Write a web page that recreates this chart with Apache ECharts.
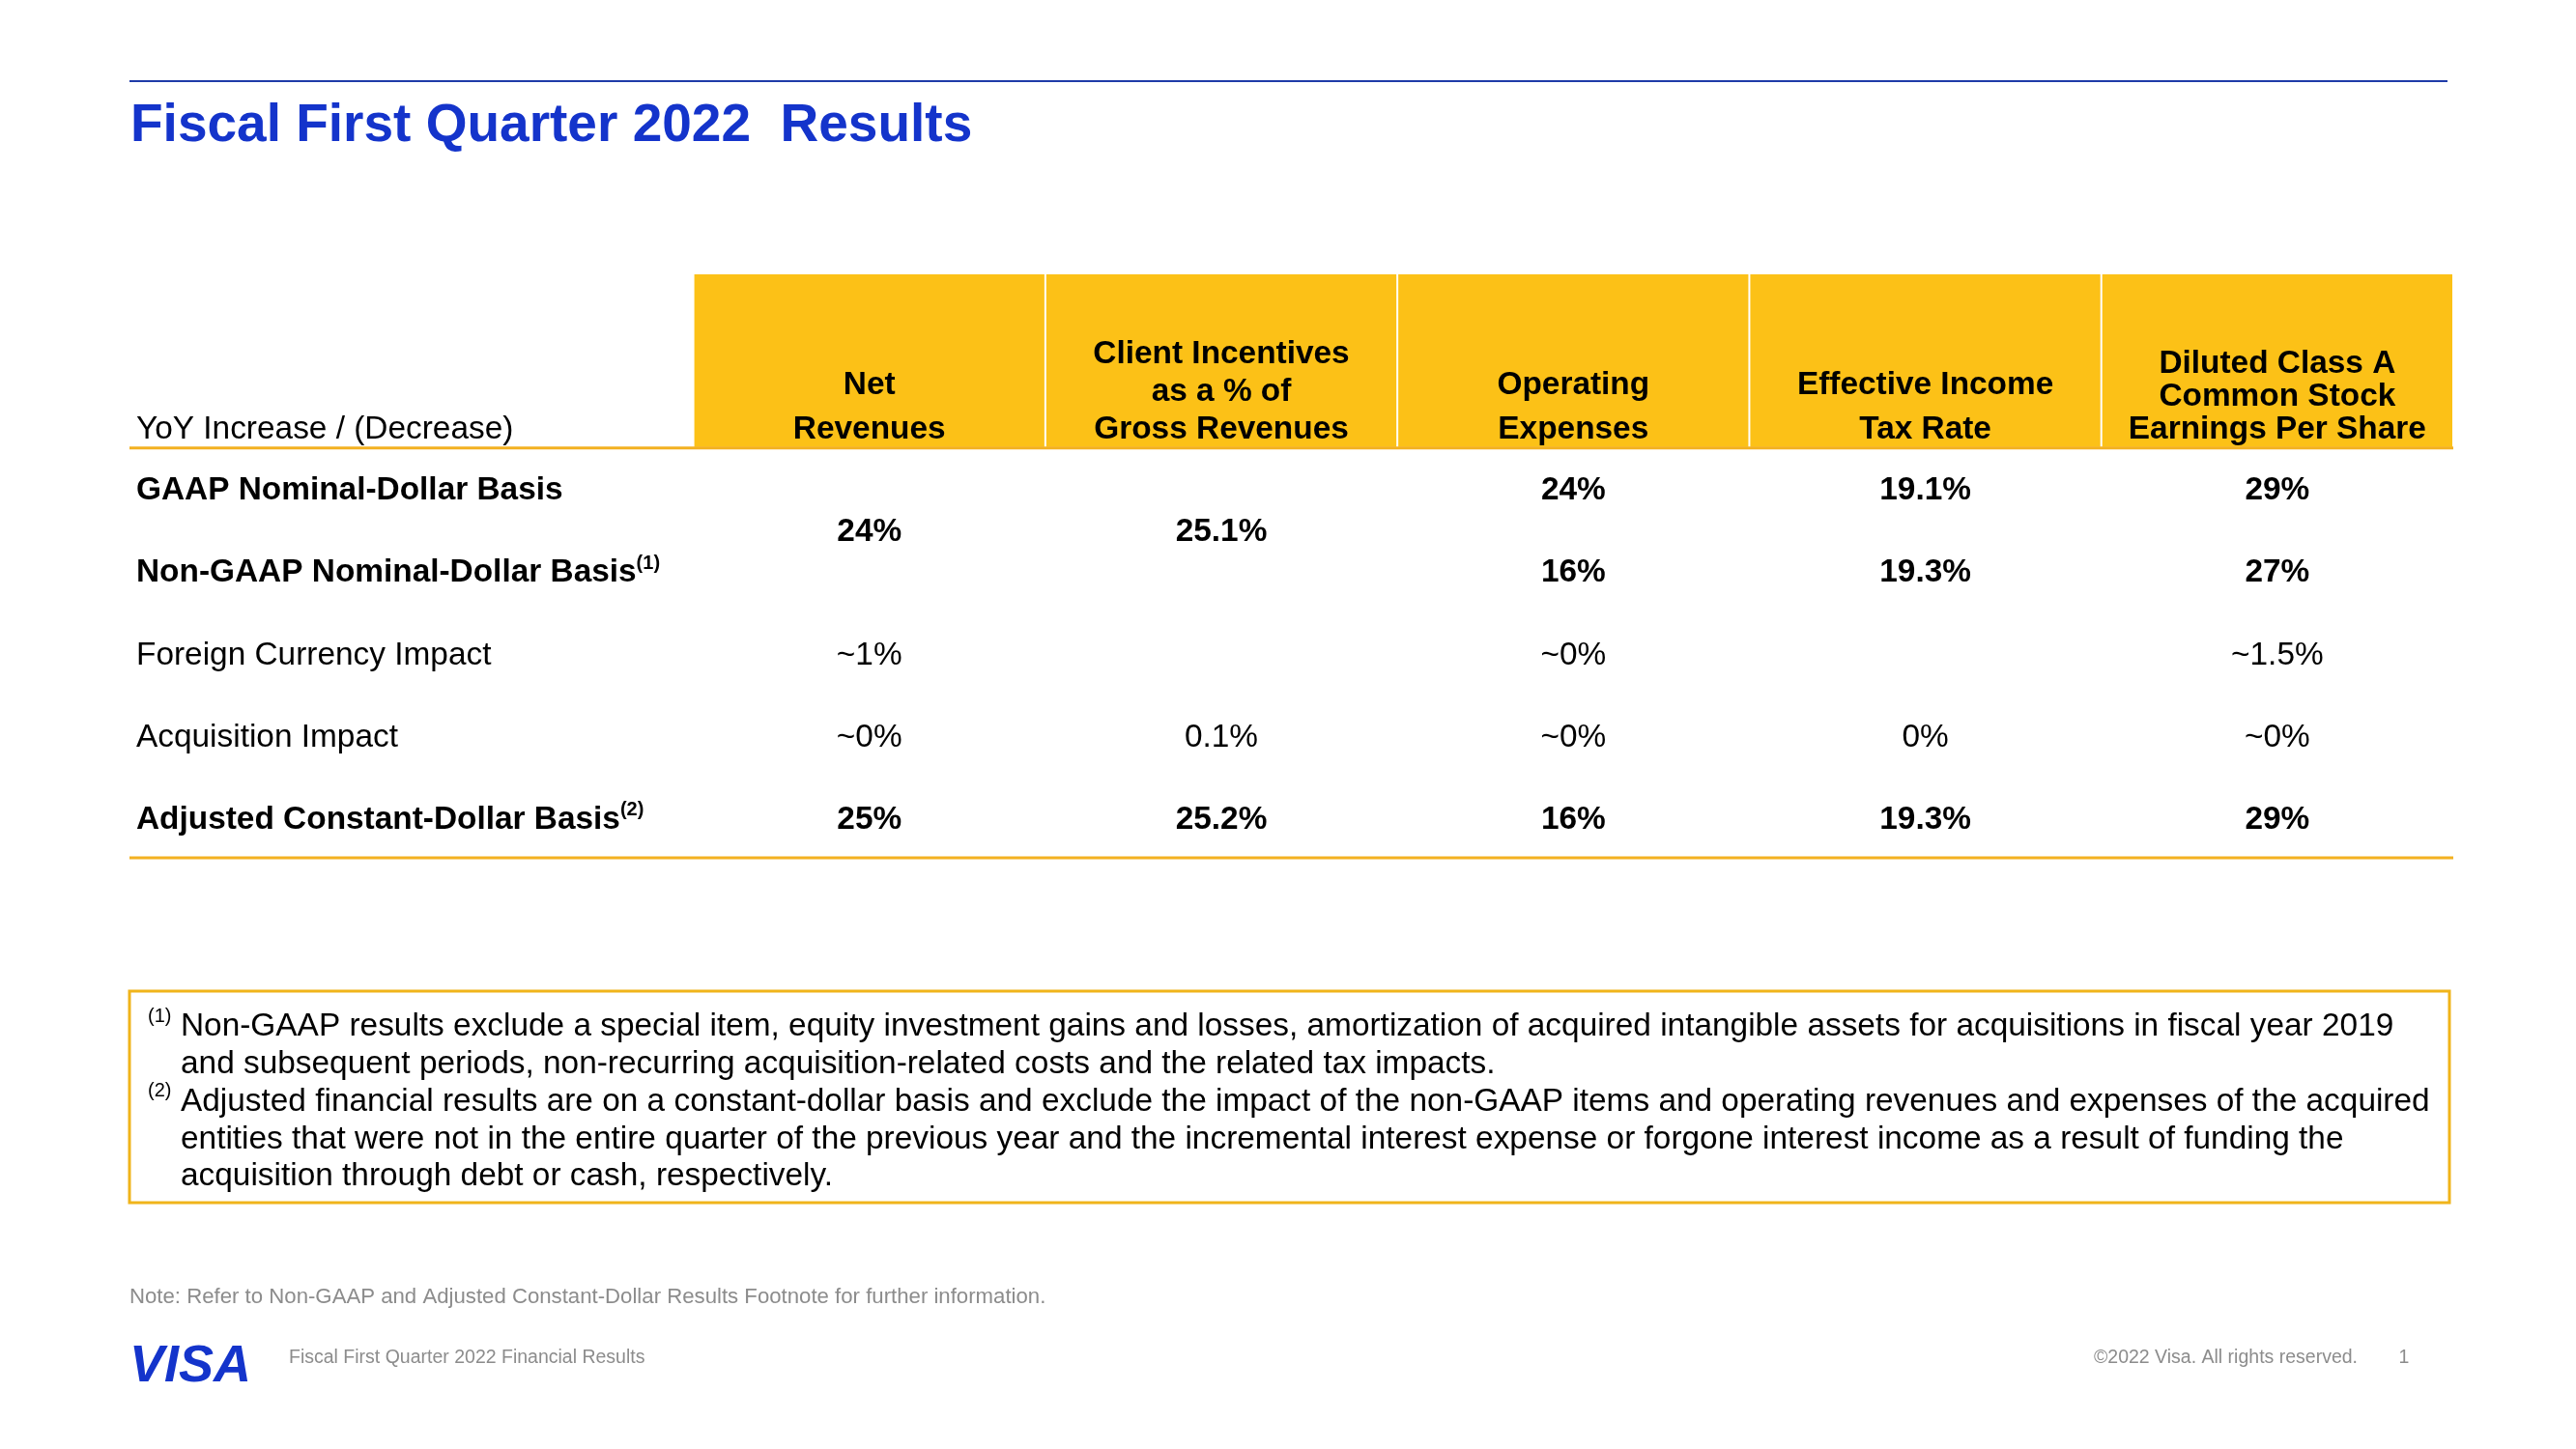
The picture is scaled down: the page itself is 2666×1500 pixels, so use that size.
<!DOCTYPE html>
<html><head><meta charset="utf-8">
<script src="https://cdn.jsdelivr.net/npm/echarts@6/dist/echarts.min.js"></script>
<style>html,body{margin:0;padding:0;background:#fff}#c{width:2666px;height:1500px}</style>
</head><body><div id="c"></div><script>
// ---------- content ----------
const titleText = 'Fiscal First Quarter 2022  Results';
const stubHeader = 'YoY Increase / (Decrease)';
const columns = ['Net\nRevenues', 'Client Incentives\nas a % of\nGross Revenues', 'Operating\nExpenses', 'Effective Income\nTax Rate', 'Diluted Class A\nCommon Stock\nEarnings Per Share'];
const rowLabels = ['GAAP Nominal-Dollar Basis', 'Non-GAAP Nominal-Dollar Basis', 'Foreign Currency Impact', 'Acquisition Impact', 'Adjusted Constant-Dollar Basis'];
const rowNotes = ['', '(1)', '', '', '(2)'];
const rowBold = [true, true, false, false, true];
const gaapValues = ['', '', '24%', '19.1%', '29%'];
const sharedValues = ['24%', '25.1%', '', '', ''];   // one value spanning GAAP and Non-GAAP rows
const nonGaapValues = ['', '', '16%', '19.3%', '27%'];
const fxValues = ['~1%', '', '~0%', '', '~1.5%'];
const acqValues = ['~0%', '0.1%', '~0%', '0%', '~0%'];
const adjValues = ['25%', '25.2%', '16%', '19.3%', '29%'];
const footnoteMarks = ['(1)', '', '(2)', '', ''];
const footnoteLines = [
  'Non-GAAP results exclude a special item, equity investment gains and losses, amortization of acquired intangible assets for acquisitions in fiscal year 2019',
  'and subsequent periods, non-recurring acquisition-related costs and the related tax impacts.',
  'Adjusted financial results are on a constant-dollar basis and exclude the impact of the non-GAAP items and operating revenues and expenses of the acquired',
  'entities that were not in the entire quarter of the previous year and the incremental interest expense or forgone interest income as a result of funding the',
  'acquisition through debt or cash, respectively.'
];
const noteText = 'Note: Refer to Non-GAAP and Adjusted Constant-Dollar Results Footnote for further information.';
const footerLeft = 'Fiscal First Quarter 2022 Financial Results';
const footerRight = '\u00A92022 Visa. All rights reserved.';
const pageNumber = '1';

// ---------- layout / style ----------
const FONT = '"Liberation Sans", Arial, sans-serif';
const FS = 33.4;
const DY = 3;
const BLUE = '#1434CB';
const GOLD = '#FCC117';
const RULE = '#F3B121';
const X_MIN = -1.602, X_MAX = 5, Y_MIN = -2.6, Y_MAX = 4.5, HEAD_BOTTOM = -0.5;
const headerLineHeights = [46, 39, 46, 46, 34];

const bodyRows = [
  { vals: gaapValues, pos: 0, bold: true },
  { vals: sharedValues, pos: 0.5, bold: true },
  { vals: nonGaapValues, pos: 1, bold: true },
  { vals: fxValues, pos: 2, bold: false },
  { vals: acqValues, pos: 3, bold: false },
  { vals: adjValues, pos: 4, bold: true }
];
const bodyData = [];
bodyRows.forEach(r => r.vals.forEach((v, c) => { if (v) bodyData.push({ value: [c + 0.5, r.pos], name: v, bold: r.bold }); }));

function renderHeader(params, api) {
  const i = params.dataIndex;
  const a = api.coord([i, Y_MIN]), b = api.coord([i + 1, HEAD_BOTTOM]);
  const lines = columns[i].split('\n');
  const lh = headerLineHeights[i];
  const cx = (a[0] + b[0]) / 2;
  const children = [{ type: 'rect', shape: { x: a[0] + 1, y: a[1], width: b[0] - a[0] - 2, height: b[1] - a[1] }, style: { fill: GOLD } }];
  lines.forEach((t, k) => children.push({ type: 'text', style: { x: cx, y: b[1] - 21 + DY - (lines.length - 1 - k) * lh, text: t, align: 'center', verticalAlign: 'middle', font: 'bold ' + FS + 'px ' + FONT, fill: '#000' } }));
  if (i === 0) {
    const s = api.coord([X_MIN, HEAD_BOTTOM]);
    children.push({ type: 'text', style: { x: s[0] + 7, y: s[1] - 21 + DY, text: stubHeader, align: 'left', verticalAlign: 'middle', font: FS + 'px ' + FONT, fill: '#000' } });
  }
  return { type: 'group', children };
}

function renderRules(params, api) {
  const l1 = api.coord([X_MIN, HEAD_BOTTOM]), r1 = api.coord([X_MAX, HEAD_BOTTOM]);
  const l2 = api.coord([X_MIN, Y_MAX]), r2 = api.coord([X_MAX, Y_MAX]);
  return { type: 'group', children: [
    { type: 'line', shape: { x1: l1[0], y1: l1[1] + 1, x2: r1[0], y2: r1[1] + 1 }, style: { stroke: RULE, lineWidth: 3 } },
    { type: 'line', shape: { x1: l2[0], y1: l2[1], x2: r2[0], y2: r2[1] }, style: { stroke: RULE, lineWidth: 3 } }
  ] };
}

function renderRowLabel(params, api) {
  const i = params.dataIndex;
  const p = api.coord([X_MIN, i]);
  const w = rowBold[i] ? 'bold' : 'normal';
  let text = '{m|' + rowLabels[i] + '}';
  if (rowNotes[i]) text += '{s|' + rowNotes[i] + '}';
  return { type: 'text', style: { x: p[0] + 7, y: p[1] + DY, text: text, align: 'left', verticalAlign: 'middle',
    rich: { m: { fontSize: FS, fontWeight: w, fontFamily: FONT, fill: '#000', lineHeight: 40 },
            s: { fontSize: 20, fontWeight: w, fontFamily: FONT, fill: '#000', verticalAlign: 'top', lineHeight: 20 } } } };
}

function renderValue(params, api) {
  const d = bodyData[params.dataIndex];
  const p = api.coord(d.value);
  return { type: 'text', style: { x: p[0], y: p[1] + DY, text: d.name, align: 'center', verticalAlign: 'middle', font: (d.bold ? 'bold ' : '') + FS + 'px ' + FONT, fill: '#000' } };
}

const graphics = [
  { type: 'line', shape: { x1: 134, y1: 84, x2: 2533, y2: 84 }, style: { stroke: '#1F3BA8', lineWidth: 2 } },
  { type: 'rect', shape: { x: 134, y: 1026, width: 2401, height: 219 }, style: { fill: 'none', stroke: '#F0B41A', lineWidth: 3 } },
  { type: 'text', x: 134, y: 1343, style: { text: noteText, font: '22.2px ' + FONT, fill: '#8c8c8c', verticalAlign: 'middle' } },
  { type: 'text', x: 134, y: 1415, style: { text: 'VISA', font: 'italic bold 54px ' + FONT, fill: BLUE, verticalAlign: 'middle' } },
  { type: 'text', x: 299, y: 1406, style: { text: footerLeft, font: '19.5px ' + FONT, fill: '#8c8c8c', verticalAlign: 'middle' } },
  { type: 'text', x: 2440, y: 1406, style: { text: footerRight, font: '19.5px ' + FONT, fill: '#8c8c8c', verticalAlign: 'middle', align: 'right' } },
  { type: 'text', x: 2488, y: 1406, style: { text: pageNumber, font: '19.5px ' + FONT, fill: '#8c8c8c', verticalAlign: 'middle', align: 'center' } }
];
footnoteLines.forEach((t, k) => {
  const y = 1063 + k * 38.8;
  graphics.push({ type: 'text', x: 187, y: y, style: { text: t, font: FS + 'px ' + FONT, fill: '#000', verticalAlign: 'middle' } });
  if (footnoteMarks[k]) graphics.push({ type: 'text', x: 153, y: y - 11, style: { text: footnoteMarks[k], font: '20px ' + FONT, fill: '#000', verticalAlign: 'middle' } });
});

const chart = echarts.init(document.getElementById('c'), null, { renderer: 'canvas' });
chart.setOption({
  animation: false,
  backgroundColor: '#fff',
  title: { text: titleText, left: 130, top: 98, textStyle: { fontFamily: FONT, fontSize: 55, fontWeight: 'bold', color: BLUE } },
  grid: { left: 134, right: 127, top: 284, bottom: 612 },
  xAxis: { type: 'value', min: X_MIN, max: X_MAX, show: false },
  yAxis: { type: 'value', min: Y_MIN, max: Y_MAX, inverse: true, show: false },
  graphic: graphics,
  series: [
    { type: 'custom', name: 'header', clip: false, renderItem: renderHeader, data: columns.map((c, i) => [i, 0]), silent: true },
    { type: 'custom', name: 'rules', clip: false, renderItem: renderRules, data: [[0, 0]], silent: true },
    { type: 'custom', name: 'rows', clip: false, renderItem: renderRowLabel, data: rowLabels.map((r, i) => [X_MIN, i]), silent: true },
    { type: 'custom', name: 'values', clip: false, renderItem: renderValue, data: bodyData.map(d => d.value), silent: true }
  ]
});
</script></body></html>
